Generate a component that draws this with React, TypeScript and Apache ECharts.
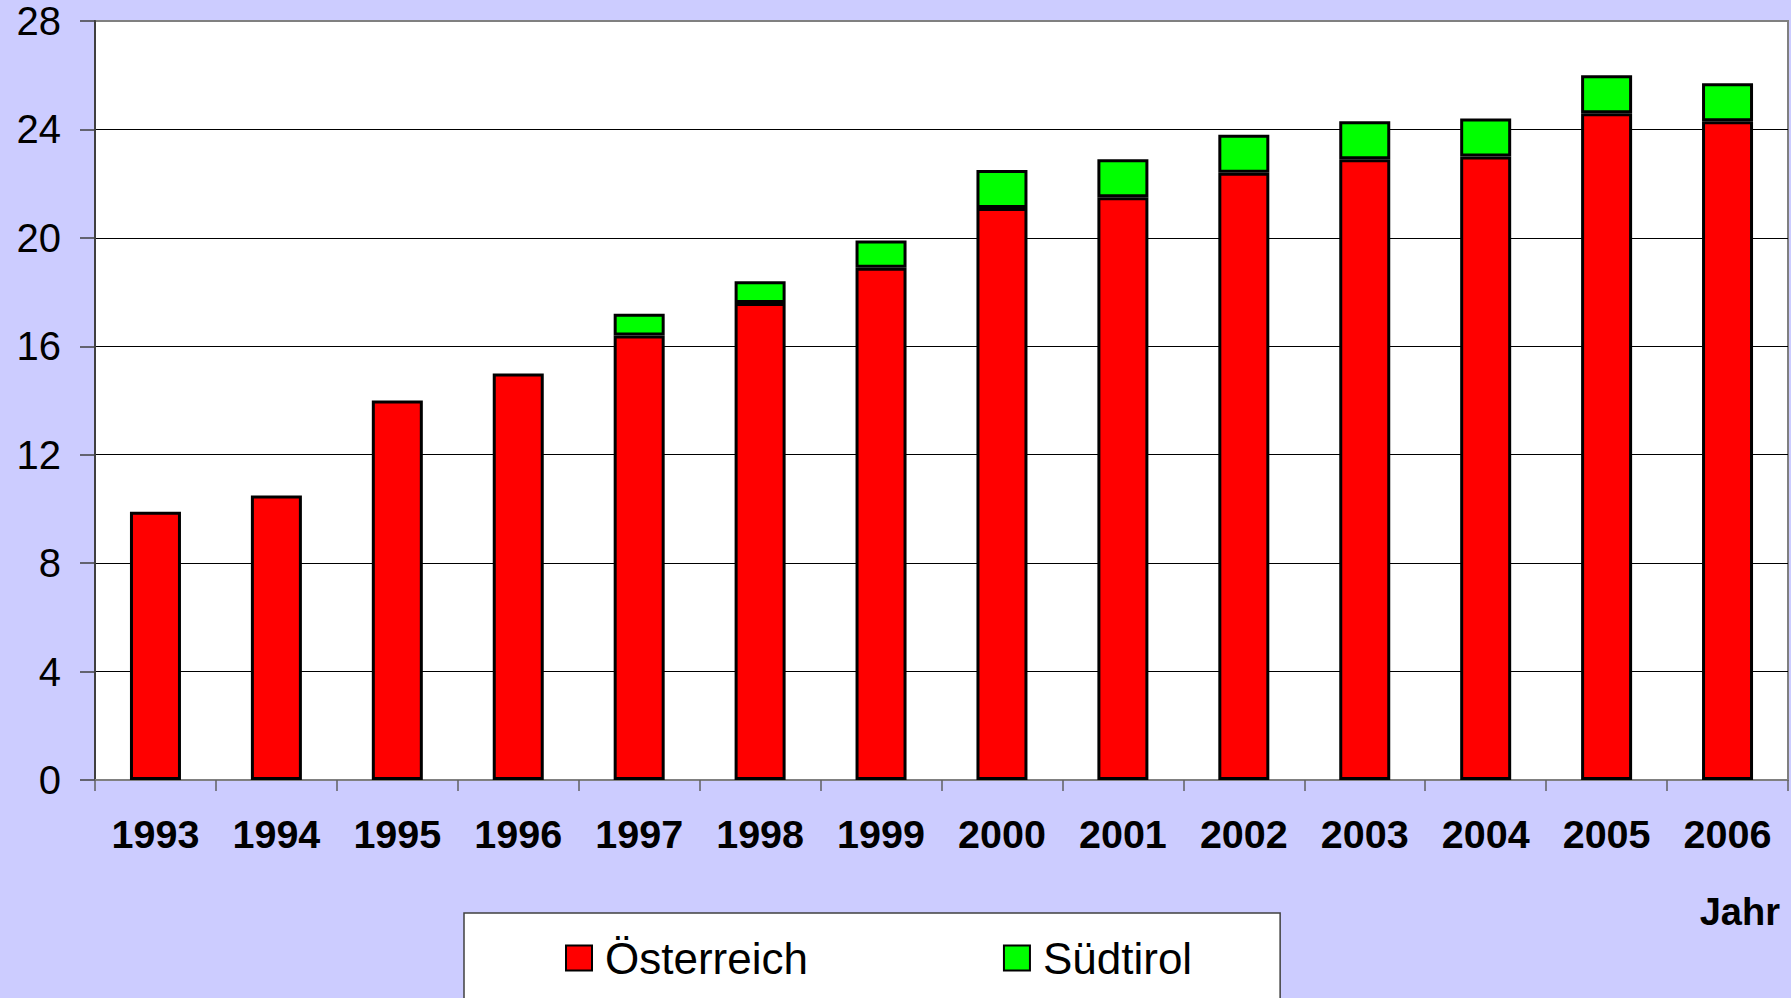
import React, { useEffect, useRef } from "react";
import * as echarts from "echarts";

const years = ["1993", "1994", "1995", "1996", "1997", "1998", "1999", "2000", "2001", "2002", "2003", "2004", "2005", "2006"];
const oesterreich = [9.9, 10.5, 14.0, 15.0, 16.4, 17.6, 18.9, 21.1, 21.5, 22.4, 22.9, 23.0, 24.6, 24.3];
const suedtirol: (number | null)[] = [null, null, null, null, 0.8, 0.8, 1.0, 1.4, 1.4, 1.4, 1.4, 1.4, 1.4, 1.4];
const yTicks = [0, 4, 8, 12, 16, 20, 24, 28];

const FONT = "'Liberation Sans', Arial, sans-serif";

export default function App() {
  const ref = useRef<HTMLDivElement>(null);
  useEffect(() => {
    if (!ref.current) return;
    const chart = echarts.init(ref.current, null, { renderer: "svg" });
    chart.setOption({
      animation: false,
      backgroundColor: "#CCCCFF",
      textStyle: { fontFamily: FONT },
      grid: {
        left: 95,
        top: 21,
        right: 3,
        bottom: 218,
        show: true,
        backgroundColor: "#FFFFFF",
        borderColor: "#808080",
        borderWidth: 2,
      },
      legend: {
        left: 464,
        top: 913,
        padding: [23, 88, 60, 101],
        backgroundColor: "#FFFFFF",
        borderColor: "#404040",
        borderWidth: 1.5,
        borderRadius: 0,
        itemWidth: 26,
        itemHeight: 25,
        itemGap: 195,
        icon: "rect",
        textStyle: { fontSize: 44, color: "#000", fontFamily: FONT, padding: [0, 0, 0, 8] },
        data: ["Österreich", "Südtirol"],
      },
      xAxis: {
        type: "category",
        data: years,
        axisLine: { show: true, lineStyle: { color: "#808080", width: 2 } },
        axisTick: { show: true, length: 11, lineStyle: { color: "#606060", width: 1.5 } },
        axisLabel: { fontSize: 39.5, fontWeight: "bold", color: "#000", margin: 34, fontFamily: FONT, interval: 0 },
        splitLine: { show: false },
      },
      yAxis: {
        type: "value",
        min: 0,
        max: 28,
        interval: 4,
        axisLine: { show: true, lineStyle: { color: "#404040", width: 2 } },
        axisTick: { show: true, length: 15, lineStyle: { color: "#404040", width: 1.5 } },
        axisLabel: {
          fontSize: 40,
          color: "#000",
          margin: 34,
          fontFamily: FONT,
          formatter: (v: number) => (yTicks.includes(v) ? String(v) : ""),
        },
        splitLine: { show: true, showMinLine: false, showMaxLine: false, lineStyle: { color: "#000", width: 1.2 } },
      },
      graphic: [
        {
          type: "text",
          right: 11,
          top: 893,
          style: { text: "Jahr", fontSize: 38, fontWeight: "bold", fill: "#000", fontFamily: FONT },
        },
      ],
      series: [
        {
          name: "Österreich",
          type: "bar",
          stack: "total",
          data: oesterreich,
          barWidth: 51,
          itemStyle: { color: "#FF0000", borderColor: "#000", borderWidth: 3 },
        },
        {
          name: "Südtirol",
          type: "bar",
          stack: "total",
          data: suedtirol,
          barWidth: 51,
          itemStyle: { color: "#00FF00", borderColor: "#000", borderWidth: 3 },
        },
      ],
    });
    return () => chart.dispose();
  }, []);
  return <div ref={ref} style={{ position: "fixed", left: 0, top: 0, width: 1791, height: 998 }} />;
}
